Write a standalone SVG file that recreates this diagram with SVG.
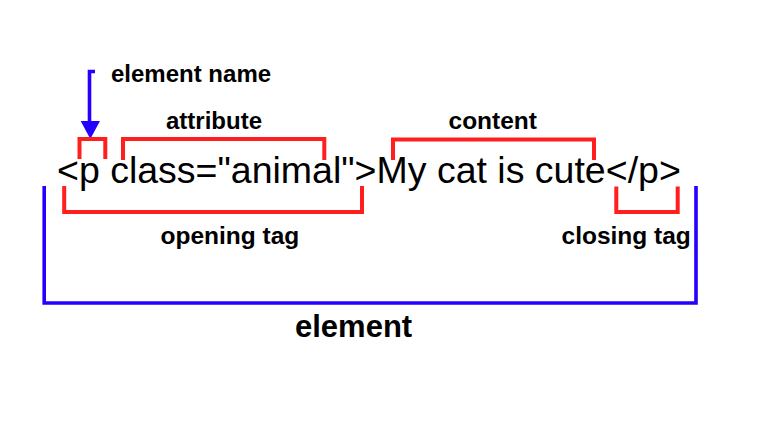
<svg xmlns="http://www.w3.org/2000/svg" width="779" height="432" viewBox="0 0 779 432">
<style>
.red{fill:none;stroke:#ff1f1f;stroke-width:4;stroke-linejoin:miter;stroke-linecap:butt}
.blue{fill:none;stroke:#2600ff;stroke-width:3.6;stroke-linejoin:miter;stroke-linecap:butt}
.lbl{font-family:"Liberation Sans",Arial,sans-serif;font-weight:bold;font-size:24.5px;fill:#000}
.code{font-family:"Liberation Sans",Arial,sans-serif;font-size:37.5px;fill:#000}
</style>
<rect width="779" height="432" fill="#fff"/>
<g id="code-line">
<text class="code" x="57" y="183">&lt;p class="animal"&gt;My cat is cute&lt;/p&gt;</text>
</g>
<g id="connectors">
<polyline class="blue" points="95,71.5 89.5,71.5 89.5,124"/>
<polygon points="80.7,121 100,121 90.3,139" fill="#2600ff"/>
<polyline class="red" points="79.5,159 79.5,139 105.3,139 105.3,159"/>
<polyline class="red" points="123,160 123,139 324.3,139 324.3,160"/>
<polyline class="red" points="393,160 393,139.5 594,139.5 594,160"/>
<polyline class="red" points="64.2,186 64.2,212 362,212 362,186"/>
<polyline class="red" points="616.3,186.5 616.3,212 677.7,212 677.7,186.5"/>
<polyline class="blue" points="44.2,186 44.2,303 696,303 696,186"/>
</g>
<g id="element-name"><text class="lbl" x="111" y="81.5" style="font-size:24px">element name</text></g>
<g id="attribute"><text class="lbl" x="166" y="128.5" style="font-size:24px">attribute</text></g>
<g id="content"><text class="lbl" x="448.5" y="128.5">content</text></g>
<g id="opening-tag"><text class="lbl" x="160.5" y="243.5">opening tag</text></g>
<g id="closing-tag"><text class="lbl" x="561.5" y="243.5">closing tag</text></g>
<g id="element"><text class="lbl" x="295" y="336.5" style="font-size:31px">element</text></g>
</svg>
